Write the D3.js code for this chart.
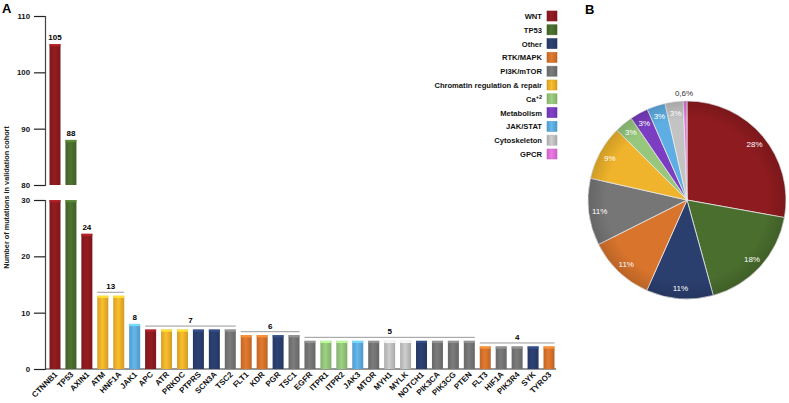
<!DOCTYPE html>
<html><head><meta charset="utf-8">
<script src="https://cdn.jsdelivr.net/npm/d3@7"></script>
<style>
html,body{margin:0;padding:0;background:#fff;}
svg{display:block;font-family:"Liberation Sans",Arial,sans-serif;}
</style></head>
<body><svg id="c" width="789" height="403"></svg>
<script>
const genes = ["CTNNB1","TP53","AXIN1","ATM","HNF1A","JAK1","APC","ATR","PRKDC","PTPRS","SCN3A","TSC2","FLT1","KDR","PGR","TSC1","EGFR","ITPR1","ITPR2","JAK3","MTOR","MYH1","MYLK","NOTCH1","PIK3CA","PIK3CG","PTEN","FLT3","HIF1A","PIK3R4","SYK","TYRO3"];
const counts = [105,88,24,13,13,8,7,7,7,7,7,7,6,6,6,6,5,5,5,5,5,5,5,5,5,5,5,4,4,4,4,4];
const pathways = ["WNT","TP53","WNT","Chromatin","Chromatin","JAK/STAT","WNT","Chromatin","Chromatin","Other","Other","PI3K/mTOR","RTK/MAPK","RTK/MAPK","Other","PI3K/mTOR","PI3K/mTOR","Ca","Ca","JAK/STAT","PI3K/mTOR","Cytoskeleton","Cytoskeleton","Other","PI3K/mTOR","PI3K/mTOR","PI3K/mTOR","RTK/MAPK","PI3K/mTOR","PI3K/mTOR","Other","RTK/MAPK"];
const categories = ["WNT","TP53","Other","RTK/MAPK","PI3K/mTOR","Chromatin","Ca","Metabolism","JAK/STAT","Cytoskeleton","GPCR"];
const legendLabels = ["WNT","TP53","Other","RTK/MAPK","PI3K/mTOR","Chromatin regulation & repair","Ca","Metabolism","JAK/STAT","Cytoskeleton","GPCR"];
const colors = ["#8e1b1f","#4a6e2e","#2b3f6f","#d8742c","#767676","#efb42b","#96c77c","#7b3ec2","#5eaee3","#c3c3c3","#e274dc"];
const pieShares = [28,18,11,11,11,9,3,3,3,3,0.6];
const pieLabels = ["28%","18%","11%","11%","11%","9%","3%","3%","3%","3%","0,6%"];
const groupBrackets = [{from:"ATM",to:"HNF1A",label:"13"},{from:"APC",to:"TSC2",label:"7"},{from:"FLT1",to:"TSC1",label:"6"},{from:"EGFR",to:"PTEN",label:"5"},{from:"FLT3",to:"TYRO3",label:"4"}];
const topTicks = [80,90,100,110];
const botTicks = [0,10,20,30];

const svg = d3.select("#c");
const color = d3.scaleOrdinal(categories, colors);
const defs = svg.append("defs");
colors.forEach((c,i)=>{
  const g = defs.append("linearGradient").attr("id","bg"+i).attr("x1","0").attr("x2","1").attr("y1","0").attr("y2","0");
  const base = d3.color(c);
  g.append("stop").attr("offset","0%").attr("stop-color", base.darker(0.35));
  g.append("stop").attr("offset","45%").attr("stop-color", base.brighter(0.15));
  g.append("stop").attr("offset","100%").attr("stop-color", base.darker(0.4));
});
const gid = p => "url(#bg"+categories.indexOf(p)+")";

const x = d3.scalePoint(genes,[55,549]);
const bw = 11;
const yTop = d3.scaleLinear([80,110],[185,16]);
const yBot = d3.scaleLinear([0,30],[369,200]);

svg.append("text").attr("x",2).attr("y",13).attr("font-size",13).attr("font-weight","bold").text("A");
svg.append("text").attr("x",585).attr("y",14).attr("font-size",13).attr("font-weight","bold").text("B");

const axTop = svg.append("g").attr("transform","translate(45,0)")
  .call(d3.axisLeft(yTop).tickValues(topTicks).tickSize(11).tickPadding(4));
const axBot = svg.append("g").attr("transform","translate(45,0)")
  .call(d3.axisLeft(yBot).tickValues(botTicks).tickSize(11).tickPadding(4));
[axTop,axBot].forEach(a=>{
  a.select(".domain").attr("stroke","#444").attr("stroke-width",1.2);
  a.selectAll(".tick line").attr("stroke","#222").attr("stroke-width",1.2);
  a.selectAll(".tick text").attr("font-size",7.8).attr("font-weight","bold").attr("fill","#111").attr("font-family","Liberation Sans, Arial");
});
svg.append("line").attr("x1",45).attr("x2",556).attr("y1",yBot(0)).attr("y2",yBot(0)).attr("stroke","#333").attr("stroke-width",1.2);

svg.append("text").attr("transform","translate(9,"+((yTop(110)+yBot(0))/2+5)+") rotate(-90)")
  .attr("text-anchor","middle").attr("font-size",7.3).attr("font-weight","bold").attr("fill","#222")
  .text("Number of mutations in validation cohort");

const data = genes.map((g,i)=>({g, v:counts[i], p:pathways[i]}));

function drawBar(sel, x0, y0, y1, p){
  sel.append("rect").attr("x",x0-bw/2).attr("y",y0).attr("width",bw).attr("height",y1-y0).attr("fill",gid(p));
  const c = d3.color(color(p));
  sel.append("rect").attr("x",x0-bw/2).attr("y",y0).attr("width",bw).attr("height",2.2).attr("fill",c.brighter(0.7)).attr("opacity",0.9);
}
const bars = svg.append("g");
data.forEach(d=>{
  const lowTop = yBot(Math.min(d.v,30));
  drawBar(bars, x(d.g), lowTop, yBot(0), d.p);
  if(d.v>30){
    drawBar(bars, x(d.g), yTop(d.v), yTop(80), d.p);
    svg.append("text").attr("x",x(d.g)).attr("y",yTop(d.v)-4).attr("text-anchor","middle")
      .attr("font-size",8).attr("font-weight","bold").text(d.v);
  }
});
data.filter(d=>d.g==="AXIN1"||d.g==="JAK1").forEach(d=>{
  svg.append("text").attr("x",x(d.g)).attr("y",yBot(d.v)-4).attr("text-anchor","middle")
    .attr("font-size",8).attr("font-weight","bold").text(d.v);
});
groupBrackets.forEach(b=>{
  const v = +b.label;
  const yy = yBot(v)-3.5;
  const x1 = x(b.from)-bw/2, x2 = x(b.to)+bw/2;
  svg.append("line").attr("x1",x1).attr("x2",x2).attr("y1",yy).attr("y2",yy).attr("stroke","#999").attr("stroke-width",1);
  svg.append("text").attr("x",(x1+x2)/2).attr("y",yy-3).attr("text-anchor","middle")
    .attr("font-size",8).attr("font-weight","bold").text(b.label);
});
data.forEach(d=>{
  svg.append("text").attr("transform","translate("+(x(d.g)+3)+","+(yBot(0)+6)+") rotate(-45)")
    .attr("text-anchor","end").attr("font-size",8).attr("font-weight","bold").attr("fill","#111").text(d.g);
});

const lg = svg.append("g");
legendLabels.forEach((l,i)=>{
  const yy = 16 + i*13.8;
  const c = d3.color(colors[i]);
  lg.append("rect").attr("x",547).attr("y",yy-5).attr("width",10).attr("height",10).attr("fill",gid(categories[i])).attr("stroke",c.darker(0.3)).attr("stroke-width",0.6);
  const t = lg.append("text").attr("x",542).attr("y",yy+3).attr("text-anchor","end").attr("font-size",7.6).attr("font-weight","bold").attr("fill","#111");
  if(categories[i]==="Ca"){
    t.append("tspan").text("Ca");
    t.append("tspan").attr("dy",-3).attr("font-size",5.5).text("+2");
  } else t.text(l);
});

const cx = 687, cy = 200, R = 99;
const pie = d3.pie().sort(null).value(d=>d)(pieShares);
const arc = d3.arc().innerRadius(0).outerRadius(R);
const pg = svg.append("g").attr("transform","translate("+cx+","+cy+")");
const rg = defs.append("radialGradient").attr("id","pshade").attr("cx","50%").attr("cy","50%").attr("r","50%");
rg.append("stop").attr("offset","82%").attr("stop-color","#000").attr("stop-opacity",0);
rg.append("stop").attr("offset","100%").attr("stop-color","#000").attr("stop-opacity",0.14);
pg.selectAll("path.s").data(pie).join("path").attr("class","s").attr("d",arc)
  .attr("fill",(d,i)=>colors[i]).attr("stroke","#e8e8e8").attr("stroke-width",0.8);
pg.append("circle").attr("r",R).attr("fill","url(#pshade)");
const labArc = d3.arc().innerRadius(88).outerRadius(88);
pie.forEach((d,i)=>{
  let [lx,ly] = labArc.centroid(d);
  let fill = "#fff";
  if(i===pie.length-1){ [lx,ly] = d3.arc().innerRadius(R+8).outerRadius(R+8).centroid(d); fill="#333"; lx-=1; }
  pg.append("text").attr("x",lx).attr("y",ly+3).attr("text-anchor","middle").attr("font-size",8)
    .attr("fill",fill).text(pieLabels[i]);
});
</script></body></html>
